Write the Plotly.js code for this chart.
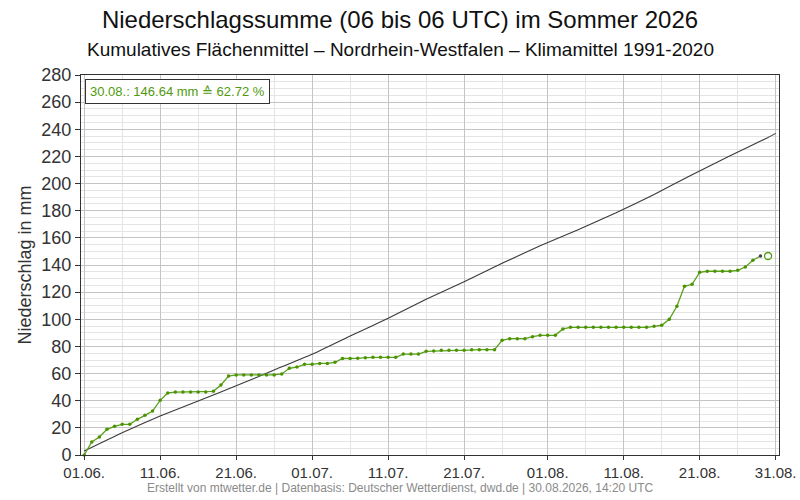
<!DOCTYPE html>
<html>
<head>
<meta charset="utf-8">
<script src="https://cdn.plot.ly/plotly-3.0.1.min.js"></script>
<style>html,body{margin:0;padding:0;background:#fff;}#chart{width:800px;height:500px;}</style>
</head>
<body>
<div id="chart"></div>
<script>
// Observed cumulative precipitation (mm), daily from 01.06.2026 to 29.08.2026
var obsStart = "2026-06-01";
var obsValues = [
  0, 9.6, 13.3, 18.9, 21.1, 22.6, 22.6, 26.3, 29.2, 32.4,
  40.3, 45.7, 46.4, 46.4, 46.4, 46.4, 46.4, 46.9, 51.6, 58.2,
  59.0, 59.0, 59.0, 59.0, 59.0, 59.0, 59.7, 63.9, 64.8, 66.8,
  66.8, 67.5, 67.5, 68.3, 71.1, 71.1, 71.2, 71.7, 72.0, 72.0,
  72.0, 72.0, 74.4, 74.4, 74.4, 76.4, 76.6, 77.1, 77.1, 77.1,
  77.1, 77.6, 77.6, 77.6, 77.6, 84.5, 85.7, 85.7, 85.7, 87.2,
  88.2, 88.2, 88.2, 92.9, 94.1, 94.1, 94.1, 94.1, 94.1, 94.1,
  94.1, 94.1, 94.1, 94.1, 94.1, 94.8, 95.6, 100.0, 109.6, 124.3,
  125.8, 134.6, 135.4, 135.4, 135.4, 135.4, 136.1, 138.5, 143.5, 146.64
];
// Current value
var currentDate = ["2026-08-30"];
var currentValue = [146.64];
// Climate mean 1991-2020 (cumulative, mm)
var climDates = ["2026-06-01","2026-06-06","2026-06-11","2026-06-16","2026-06-21","2026-06-26",
  "2026-07-01","2026-07-06","2026-07-11","2026-07-16","2026-07-21","2026-07-26","2026-07-31",
  "2026-08-05","2026-08-10","2026-08-15","2026-08-20","2026-08-25","2026-08-30","2026-08-31"];
var climValues = [2.9, 16.4, 28.7, 39.8, 51, 62.6, 74.2, 87.7, 100.7, 114.7, 127.7, 141.2, 154.2,
  166, 178.5, 192, 206.5, 220.5, 234, 237];
// Tick labels
var tickDates = ["2026-06-01","2026-06-11","2026-06-21","2026-07-01","2026-07-11","2026-07-21",
  "2026-08-01","2026-08-11","2026-08-21","2026-08-31"];
var tickLabels = ["01.06.","11.06.","21.06.","01.07.","11.07.","21.07.","01.08.","11.08.","21.08.","31.08."];
var minorDates = ["2026-06-06","2026-06-16","2026-06-26","2026-07-06","2026-07-16","2026-07-26",
  "2026-08-06","2026-08-16","2026-08-26"];
var infoText = "30.08.: 146.64 mm \u2259 62.72 %";

var obsDates = [];
(function(){
  var d = new Date(obsStart + "T00:00:00Z");
  for (var i = 0; i < obsValues.length; i++) {
    var dd = new Date(d.getTime() + i * 86400000);
    obsDates.push(dd.toISOString().slice(0,10));
  }
})();
var markerColors = obsValues.map(function(v,i){ return i === obsValues.length-1 ? "#444444" : "#4a9400"; });

var green = "#4f9a0c";
var font = "Liberation Sans, Arial, sans-serif";
var centerX = (400 - 81) / 698;

var traces = [
  {x: climDates, y: climValues, type: "scatter", mode: "lines",
   line: {color: "#3a3a3a", width: 1.1, shape: "spline", smoothing: 0.4}, hoverinfo: "skip", cliponaxis: false},
  {x: obsDates, y: obsValues, type: "scatter", mode: "lines+markers",
   line: {color: "#5aa01c", width: 1.3},
   marker: {color: markerColors, size: 3.5}, cliponaxis: false},
  {x: currentDate, y: currentValue, type: "scatter", mode: "markers",
   marker: {symbol: "circle-open", color: green, size: 7, line: {width: 1.3, color: green}},
   cliponaxis: false}
];

var layout = {
  width: 800, height: 500,
  margin: {l: 81, r: 21, t: 75, b: 45},
  paper_bgcolor: "#fff", plot_bgcolor: "#fff",
  showlegend: false,
  font: {family: font, color: "#333"},
  title: {text: "Niederschlagssumme (06 bis 06 UTC) im Sommer 2026", x: 0.5, xanchor: "center",
          y: 0.96, yanchor: "middle", yref: "container", font: {size: 24, color: "#111", family: font}},
  xaxis: {
    type: "date",
    range: ["2026-05-31 14:00", "2026-08-31 10:30"],
    tickmode: "array", tickvals: tickDates, ticktext: tickLabels,
    tickfont: {size: 15, color: "#333"},
    ticks: "outside", ticklen: 4, tickcolor: "#333",
    showgrid: true, gridcolor: "#c4c4c4", gridwidth: 1,
    minor: {tickmode: "array", tickvals: minorDates, showgrid: true, gridcolor: "#e4e4e4", gridwidth: 1},
    showline: true, linecolor: "#333", linewidth: 1, mirror: true,
    zeroline: false, fixedrange: true
  },
  yaxis: {
    range: [0, 280], dtick: 20, tick0: 0,
    tickfont: {size: 18, color: "#333"},
    ticks: "outside", ticklen: 5, tickcolor: "#333",
    showgrid: true, gridcolor: "#c4c4c4", gridwidth: 1,
    minor: {dtick: 5, showgrid: true, gridcolor: "#e4e4e4", gridwidth: 1},
    showline: true, linecolor: "#333", linewidth: 1, mirror: true,
    zeroline: false,
    title: {text: "Niederschlag in mm", font: {size: 18, color: "#333"}, standoff: 5}
  },
  annotations: [
    {text: "Kumulatives Flächenmittel – Nordrhein-Westfalen – Klimamittel 1991-2020",
     xref: "paper", yref: "paper", x: centerX, xanchor: "center",
     y: (455 - 50) / 380, yanchor: "middle", showarrow: false,
     font: {size: 19, color: "#111"}},
    {text: infoText, xref: "paper", yref: "paper", x: 0.006, xanchor: "left",
     y: 0.99, yanchor: "top", showarrow: false,
     font: {size: 13, color: green}, bgcolor: "#fff",
     bordercolor: "#333", borderwidth: 1, borderpad: 4},
    {text: "Erstellt von mtwetter.de | Datenbasis: Deutscher Wetterdienst, dwd.de | 30.08.2026, 14:20 UTC",
     xref: "paper", yref: "paper", x: centerX, xanchor: "center",
     y: (455 - 488) / 380, yanchor: "middle", showarrow: false,
     font: {size: 12, color: "#8a8a8a"}}
  ]
};

Plotly.newPlot("chart", traces, layout, {displayModeBar: false, staticPlot: true});
</script>
</body>
</html>
